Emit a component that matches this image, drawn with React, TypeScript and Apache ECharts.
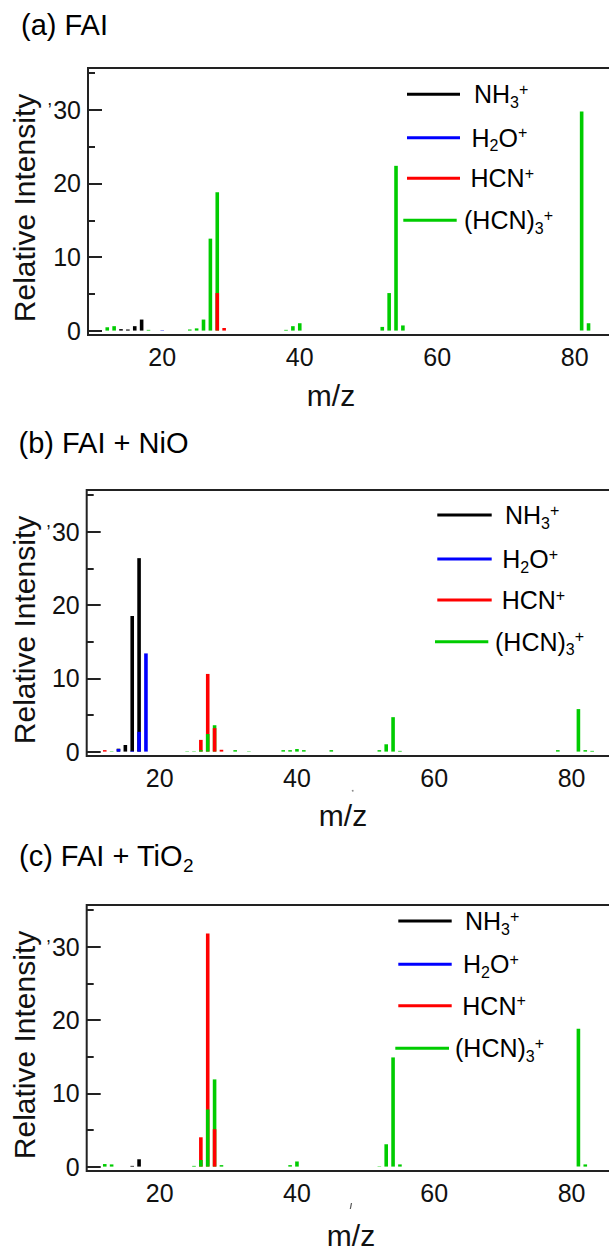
import React, { useEffect, useRef } from "react";
import * as echarts from "echarts";

type Peak = [number, number]; // [m/z, relative intensity]

const FONT = '"Liberation Sans", Arial, Helvetica, sans-serif';
const INK = "#111111";

// ion colours
const COLOR_NH3 = "#000000";
const COLOR_H2O = "#0000ff";
const COLOR_HCN = "#ff0000";
const COLOR_HCN3 = "#00cc00";

// (a) FAI
const faiNH3: Peak[] = [[14, 0.2], [15, 0.15], [16, 0.6], [17, 1.5]];
const faiH2O: Peak[] = [[20, 0.05]];
const faiHCN: Peak[] = [[28, 5.1], [29, 0.35]];
const faiHCN3: Peak[] = [
  [12, 0.45], [13, 0.6], [18, 0.1], [24, 0.15], [25, 0.3], [26, 1.5], [27, 12.5], [28, 18.8],
  [38, 0.1], [39, 0.6], [40, 1.0], [52, 0.5], [53, 5.1], [54, 22.4], [55, 0.7], [81, 29.8], [82, 1.0],
];

// (b) FAI + NiO
const nioNH3: Peak[] = [[14, 0.4], [15, 0.9], [16, 18.5], [17, 26.4]];
const nioH2O: Peak[] = [[14, 0.35], [16, 0.1], [17, 2.7], [18, 13.4]];
const nioHCN: Peak[] = [[12, 0.2], [26, 1.6], [27, 10.6], [28, 3.2], [29, 0.25]];
const nioHCN3: Peak[] = [
  [13, 0.05], [24, 0.05], [25, 0.05], [26, 0.2], [27, 2.4], [28, 3.6], [31, 0.2], [33, 0.05],
  [38, 0.2], [39, 0.2], [40, 0.35], [41, 0.2], [45, 0.2], [52, 0.2], [53, 1.0], [54, 4.7],
  [55, 0.1], [78, 0.2], [81, 5.8], [82, 0.2], [83, 0.1],
];

// (c) FAI + TiO2
const tioNH3: Peak[] = [[16, 0.1], [17, 1.0]];
const tioH2O: Peak[] = [];
const tioHCN: Peak[] = [[26, 4.0], [27, 31.8], [28, 5.1]];
const tioHCN3: Peak[] = [
  [12, 0.35], [13, 0.3], [25, 0.1], [26, 0.9], [27, 7.8], [28, 11.9], [29, 0.2],
  [39, 0.2], [40, 0.7], [52, 0.05], [53, 3.05], [54, 14.9], [55, 0.3], [81, 18.8], [82, 0.3],
];

const yMajorTicks = [0, 10, 20, 30];
const yMinorTicks = [5, 15, 25, 35];
const xTickLabels = [20, 40, 60, 80];

const legendLabels = [
  { text: "{n|NH}{sb|3}{sp|+}", color: COLOR_NH3 },
  { text: "{n|H}{sb|2}{n|O}{sp|+}", color: COLOR_H2O },
  { text: "{n|HCN}{sp|+}", color: COLOR_HCN },
  { text: "{n|(HCN)}{sb|3}{sp|+}", color: COLOR_HCN3 },
];

const richIon = {
  n: { fontSize: 25, fontFamily: FONT, color: INK, verticalAlign: "middle" },
  sb: { fontSize: 16, fontFamily: FONT, color: INK, verticalAlign: "middle", padding: [16, 0, 0, 0] },
  sp: { fontSize: 16, fontFamily: FONT, color: INK, verticalAlign: "middle", padding: [0, 0, 10, 0] },
};

// Overlapping bars: at every m/z the smaller peak is drawn in front of the larger one.
function buildLayers(groups: { peaks: Peak[]; color: string }[]) {
  const byMz = new Map<number, { v: number; color: string }[]>();
  groups.forEach((g) =>
    g.peaks.forEach(([m, v]) => {
      if (!byMz.has(m)) byMz.set(m, []);
      byMz.get(m)!.push({ v, color: g.color });
    })
  );
  const layers: any[][] = [[], [], [], []];
  byMz.forEach((list, m) => {
    list.sort((a, b) => b.v - a.v);
    list.forEach((p, i) => layers[i].push({ value: [m, p.v], itemStyle: { color: p.color } }));
  });
  return layers;
}

const panels = [
  {
    title: "{t|(a) FAI}",
    titleX: 21, titleY: 25,
    grid: { left: 88, top: 68, width: 527, height: 267 },
    xMin: 9.2, xMax: 85.85,
    groups: [
      { peaks: faiNH3, color: COLOR_NH3 },
      { peaks: faiH2O, color: COLOR_H2O },
      { peaks: faiHCN, color: COLOR_HCN },
      { peaks: faiHCN3, color: COLOR_HCN3 },
    ],
    legend: [
      { x1: 407, x2: 460, y: 94.3, tx: 474 },
      { x1: 407, x2: 460, y: 137.7, tx: 471.5 },
      { x1: 407, x2: 460, y: 178.3, tx: 470.5 },
      { x1: 403.3, x2: 456.7, y: 220.3, tx: 464 },
    ],
    yNameY: 208, xNameX: 331, xNameY: 395,
  },
  {
    title: "{t|(b) FAI + NiO}",
    titleX: 18.5, titleY: 443,
    grid: { left: 86.7, top: 490, width: 528.3, height: 266 },
    xMin: 9.37, xMax: 86.33,
    groups: [
      { peaks: nioNH3, color: COLOR_NH3 },
      { peaks: nioH2O, color: COLOR_H2O },
      { peaks: nioHCN, color: COLOR_HCN },
      { peaks: nioHCN3, color: COLOR_HCN3 },
    ],
    legend: [
      { x1: 437.3, x2: 491.7, y: 515, tx: 505 },
      { x1: 437.3, x2: 491.7, y: 559, tx: 502.3 },
      { x1: 437.3, x2: 491.7, y: 600, tx: 501.7 },
      { x1: 435, x2: 488.3, y: 641.7, tx: 495 },
    ],
    yNameY: 630, xNameX: 343, xNameY: 815,
  },
  {
    title: "{t|(c) FAI + TiO}{s|2}",
    titleX: 19, titleY: 856,
    grid: { left: 86.7, top: 905, width: 528.3, height: 266 },
    xMin: 9.37, xMax: 86.33,
    groups: [
      { peaks: tioNH3, color: COLOR_NH3 },
      { peaks: tioH2O, color: COLOR_H2O },
      { peaks: tioHCN, color: COLOR_HCN },
      { peaks: tioHCN3, color: COLOR_HCN3 },
    ],
    legend: [
      { x1: 398.3, x2: 451.7, y: 921, tx: 465 },
      { x1: 398.3, x2: 451.7, y: 964.3, tx: 463 },
      { x1: 398.3, x2: 451.7, y: 1005.7, tx: 462.3 },
      { x1: 395.3, x2: 449, y: 1048.3, tx: 455 },
    ],
    yNameY: 1045, xNameX: 351, xNameY: 1235,
  },
];

function buildOption() {
  const grids: any[] = [];
  const xAxes: any[] = [];
  const yAxes: any[] = [];
  const series: any[] = [];
  const graphics: any[] = [];

  panels.forEach((p, i) => {
    grids.push({
      ...p.grid,
      show: true,
      borderColor: "#222222",
      borderWidth: 2,
      backgroundColor: "transparent",
      containLabel: false,
      outerBoundsMode: "none",
    });

    xAxes.push({
      gridIndex: i,
      type: "value",
      min: p.xMin,
      max: p.xMax,
      axisLine: { show: false },
      axisTick: { show: false },
      splitLine: { show: false },
      axisLabel: {
        customValues: xTickLabels,
        margin: 9,
        fontSize: 25,
        fontFamily: FONT,
        color: INK,
      },
    });

    yAxes.push({
      gridIndex: i,
      type: "value",
      position: "left",
      min: -0.6,
      max: 35.7,
      axisLine: { show: false },
      splitLine: { show: false },
      axisTick: {
        show: true,
        inside: true,
        length: 14,
        customValues: yMajorTicks,
        lineStyle: { color: "#222222", width: 2 },
      },
      axisLabel: {
        customValues: yMajorTicks,
        margin: 7,
        formatter: (v: number) => (v === 30 ? "{cm|,}{v|30}" : "{v|" + v + "}"),
        rich: {
          v: { fontSize: 25, fontFamily: FONT, color: INK },
          cm: { fontSize: 18, fontFamily: FONT, color: INK, padding: [0, 1, 22, 0] },
        },
      },
    });
    yAxes.push({
      gridIndex: i,
      type: "value",
      position: "left",
      min: -0.6,
      max: 35.7,
      axisLine: { show: false },
      splitLine: { show: false },
      axisLabel: { show: false },
      axisTick: {
        show: true,
        inside: true,
        length: 7,
        customValues: yMinorTicks,
        lineStyle: { color: "#222222", width: 2 },
      },
    });

    buildLayers(p.groups).forEach((data) => {
      series.push({
        type: "bar",
        xAxisIndex: i,
        yAxisIndex: 2 * i,
        barWidth: 3.6,
        barGap: "-100%",
        silent: true,
        data,
      });
    });

    graphics.push({
      type: "text",
      x: p.titleX,
      y: p.titleY,
      style: {
        text: p.title,
        align: "left",
        verticalAlign: "middle",
        rich: {
          t: { fontSize: 29, fontFamily: FONT, color: INK, verticalAlign: "middle" },
          s: { fontSize: 19, fontFamily: FONT, color: INK, verticalAlign: "middle", padding: [18, 0, 0, 0] },
        },
      },
    });
    graphics.push({
      type: "text",
      x: 24,
      y: p.yNameY,
      rotation: Math.PI / 2,
      style: {
        text: "Relative Intensity",
        fontSize: 30,
        fontFamily: FONT,
        fill: INK,
        align: "center",
        verticalAlign: "middle",
      },
    });
    graphics.push({
      type: "text",
      x: p.xNameX,
      y: p.xNameY,
      style: {
        text: "m/z",
        fontSize: 30,
        fontFamily: FONT,
        fill: INK,
        align: "center",
        verticalAlign: "middle",
      },
    });

    p.legend.forEach((l, k) => {
      graphics.push({
        type: "line",
        shape: { x1: l.x1, y1: l.y, x2: l.x2, y2: l.y },
        style: { stroke: legendLabels[k].color, lineWidth: 3 },
      });
      graphics.push({
        type: "text",
        x: l.tx,
        y: l.y,
        style: {
          text: legendLabels[k].text,
          align: "left",
          verticalAlign: "middle",
          rich: richIon,
        },
      });
    });
  });

  // small stray marks below panels (b) and (c)
  graphics.push({
    type: "circle",
    shape: { cx: 352.7, cy: 790.7, r: 0.9 },
    style: { fill: "#888888" },
  });
  graphics.push({
    type: "line",
    shape: { x1: 351.5, y1: 1203, x2: 350.3, y2: 1209 },
    style: { stroke: "#555555", lineWidth: 1.2 },
  });

  return {
    animation: false,
    backgroundColor: "#ffffff",
    grid: grids,
    xAxis: xAxes,
    yAxis: yAxes,
    series,
    graphic: graphics,
  };
}

export default function App() {
  const ref = useRef<HTMLDivElement>(null);

  useEffect(() => {
    if (!ref.current) return;
    const chart = echarts.init(ref.current, undefined, { renderer: "svg" });
    chart.setOption(buildOption() as any);
    return () => chart.dispose();
  }, []);

  return (
    <div
      ref={ref}
      style={{ position: "absolute", left: 0, top: 0, width: 609, height: 1251, background: "#fff" }}
    />
  );
}
